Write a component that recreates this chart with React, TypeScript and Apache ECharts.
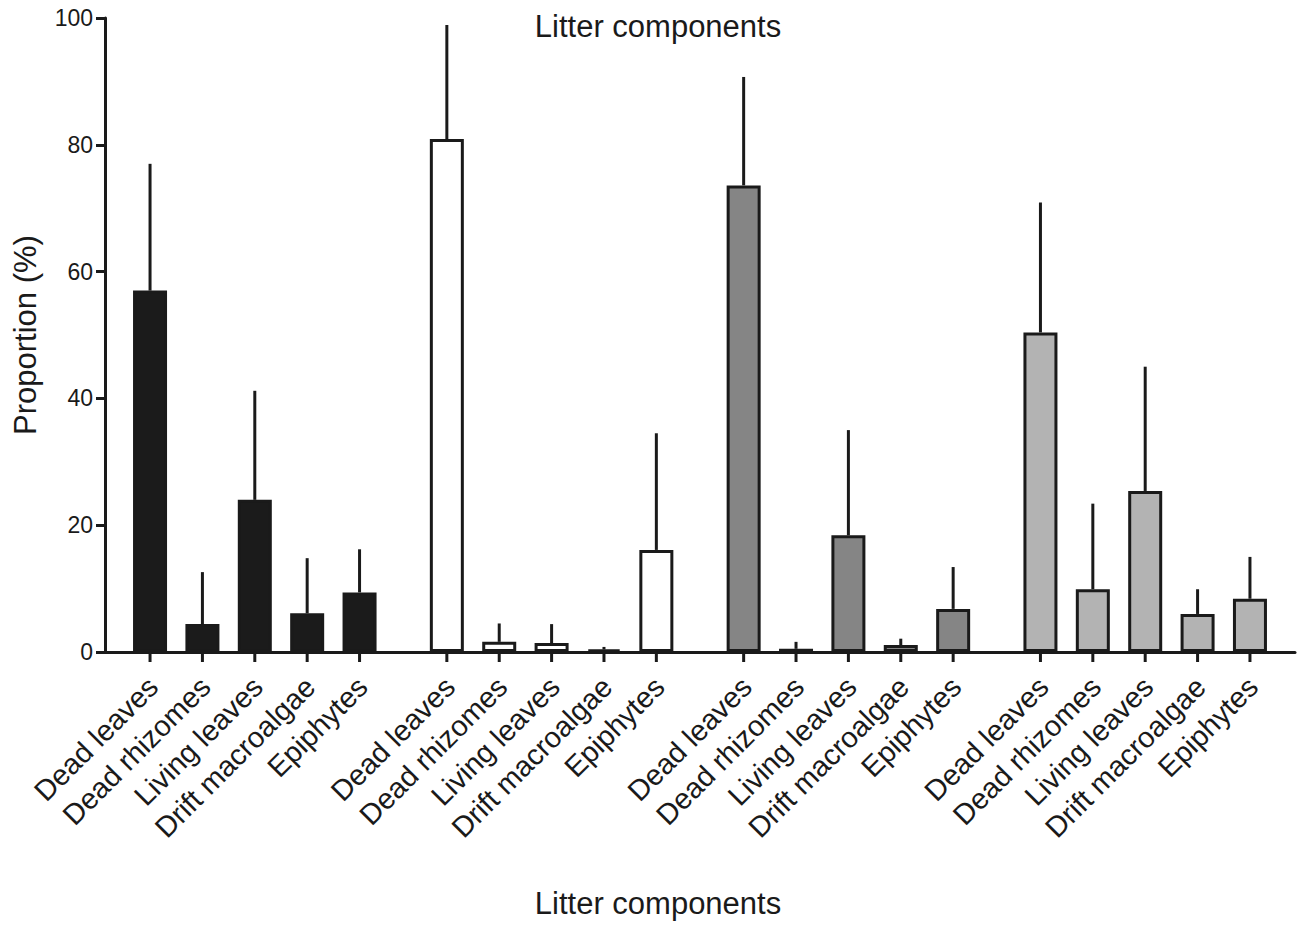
import React, { useEffect, useRef } from "react";
import * as echarts from "echarts";

// ---- Data ----
const components = ["Dead leaves", "Dead rhizomes", "Living leaves", "Drift macroalgae", "Epiphytes"];
const group1Mean = [57.0, 4.4, 24.0, 6.1, 9.4];
const group1Err = [20.0, 8.2, 17.2, 8.7, 6.8];
const group2Mean = [80.9, 1.6, 1.4, 0.4, 16.1];
const group2Err = [18.0, 2.9, 3.0, 0.4, 18.4];
const group3Mean = [73.6, 0.5, 18.4, 1.1, 6.8];
const group3Err = [17.1, 1.1, 16.6, 1.0, 6.6];
const group4Mean = [50.4, 9.9, 25.4, 6.0, 8.4];
const group4Err = [20.5, 13.5, 19.6, 3.9, 6.6];
const yTicks = [0, 20, 40, 60, 80, 100];

const groupMeans = [group1Mean, group2Mean, group3Mean, group4Mean];
const groupErrs = [group1Err, group2Err, group3Err, group4Err];
const groupColors = ["#1b1b1b", "#ffffff", "#858585", "#b3b3b3"];

const FONT = "'Liberation Sans', Arial, Helvetica, sans-serif";
const INK = "#1a1a1a";
const GROUP_PERIOD = 17 / 3; // slots per group incl. gap

export default function App() {
  const ref = useRef<HTMLDivElement>(null);

  useEffect(() => {
    if (!ref.current) return;
    const chart = echarts.init(ref.current, undefined, { renderer: "svg" });

    const barData: any[] = [];
    const errData: any[] = [];
    const tickData: any[] = [];
    groupMeans.forEach((means, g) => {
      means.forEach((m, i) => {
        const pos = g * GROUP_PERIOD + i;
        barData.push({ value: [pos, m], itemStyle: { color: groupColors[g] } });
        errData.push([pos, m, m + groupErrs[g][i]]);
        tickData.push([pos, 0, i]);
      });
    });

    chart.setOption({
      animation: false,
      backgroundColor: "#ffffff",
      grid: { left: 105, right: 9, top: 18, bottom: 277, containLabel: false },
      xAxis: {
        type: "value",
        min: -0.86,
        max: 21.86,
        axisLine: { show: true, onZero: false, lineStyle: { color: INK, width: 3 } },
        axisTick: { show: false },
        axisLabel: { show: false },
        splitLine: { show: false },
      },
      yAxis: {
        type: "value",
        min: yTicks[0],
        max: yTicks[yTicks.length - 1],
        interval: yTicks[1] - yTicks[0],
        name: "Proportion (%)",
        nameLocation: "middle",
        nameGap: 64,
        nameTextStyle: { fontFamily: FONT, fontSize: 31, color: INK },
        axisLine: { show: true, onZero: false, lineStyle: { color: INK, width: 3 } },
        axisTick: { show: true, length: 9, lineStyle: { color: INK, width: 3 } },
        axisLabel: { fontFamily: FONT, fontSize: 23, color: INK, margin: 12 },
        splitLine: { show: false },
      },
      graphic: [
        {
          type: "text",
          x: 658,
          y: 26,
          style: { text: "Litter components", align: "center", verticalAlign: "middle", font: `31px ${FONT}`, fill: INK },
        },
        {
          type: "text",
          x: 658,
          y: 903,
          style: { text: "Litter components", align: "center", verticalAlign: "middle", font: `31px ${FONT}`, fill: INK },
        },
      ],
      series: [
        {
          type: "bar",
          data: barData,
          barWidth: 34,
          itemStyle: { borderColor: INK, borderWidth: 3 },
          z: 2,
        },
        {
          type: "custom",
          data: errData,
          z: 3,
          renderItem: (params: any, api: any) => {
            const x = api.value(0);
            const p0 = api.coord([x, api.value(1)]);
            const p1 = api.coord([x, api.value(2)]);
            return {
              type: "line",
              shape: { x1: p0[0], y1: p0[1], x2: p1[0], y2: p1[1] },
              style: { stroke: INK, lineWidth: 3 },
            };
          },
        },
        {
          type: "custom",
          data: tickData,
          z: 4,
          clip: false,
          renderItem: (params: any, api: any) => {
            const x = api.value(0);
            const idx = api.value(2);
            const p = api.coord([x, 0]);
            return {
              type: "group",
              children: [
                {
                  type: "line",
                  shape: { x1: p[0], y1: p[1], x2: p[0], y2: p[1] + 10 },
                  style: { stroke: INK, lineWidth: 3 },
                },
                {
                  type: "text",
                  x: p[0] + 3,
                  y: p[1] + 30,
                  rotation: Math.PI / 4,
                  style: {
                    text: components[idx],
                    align: "right",
                    verticalAlign: "middle",
                    font: `29px ${FONT}`,
                    fill: INK,
                  },
                },
              ],
            };
          },
        },
      ],
    });

    return () => chart.dispose();
  }, []);

  return (
    <div
      ref={ref}
      style={{ position: "absolute", left: 0, top: 0, width: 1304, height: 929, background: "#fff" }}
    />
  );
}
